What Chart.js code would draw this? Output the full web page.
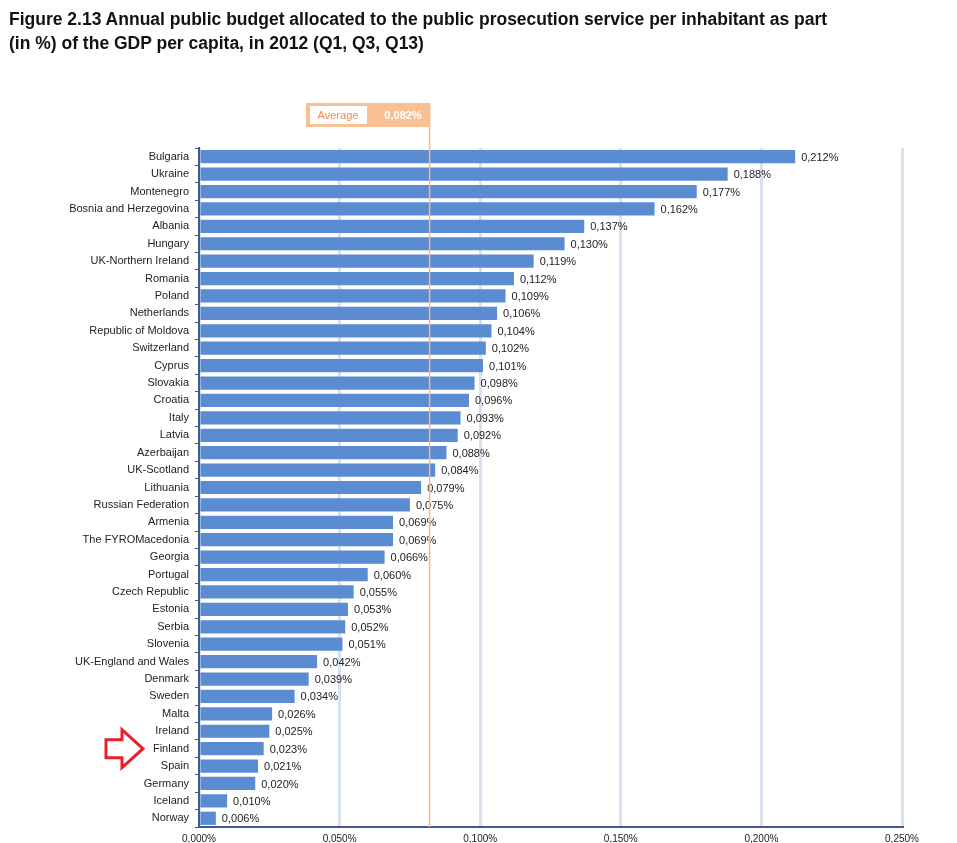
<!DOCTYPE html>
<html><head><meta charset="utf-8">
<script src="https://cdn.jsdelivr.net/npm/chart.js@4/dist/chart.umd.min.js"></script>
<style>
body{margin:0;background:#fff;width:957px;height:843px;overflow:hidden;position:relative;font-family:"Liberation Sans",Arial,sans-serif}
#title{position:absolute;left:9px;top:7px;font-size:17.5px;font-weight:bold;line-height:24px;color:#111;z-index:2}
#wrap{position:absolute;left:0;top:0;width:957px;height:843px}
</style></head><body>
<div id="title">Figure 2.13 Annual public budget allocated to the public prosecution service per inhabitant as part<br>(in %) of the GDP per capita, in 2012 (Q1, Q3, Q13)</div>
<div id="wrap"><canvas id="c"></canvas></div>
<script>
// Datos de la figura
const countries = ['Bulgaria','Ukraine','Montenegro','Bosnia and Herzegovina','Albania','Hungary','UK-Northern Ireland','Romania','Poland','Netherlands','Republic of Moldova','Switzerland','Cyprus','Slovakia','Croatia','Italy','Latvia','Azerbaijan','UK-Scotland','Lithuania','Russian Federation','Armenia','The FYROMacedonia','Georgia','Portugal','Czech Republic','Estonia','Serbia','Slovenia','UK-England and Wales','Denmark','Sweden','Malta','Ireland','Finland','Spain','Germany','Iceland','Norway'];
const values = [0.212,0.188,0.177,0.162,0.137,0.130,0.119,0.112,0.109,0.106,0.104,0.102,0.101,0.098,0.096,0.093,0.092,0.088,0.084,0.079,0.075,0.069,0.069,0.066,0.060,0.055,0.053,0.052,0.051,0.042,0.039,0.034,0.026,0.025,0.023,0.021,0.020,0.010,0.006];
const average = 0.082;
const xTicks = [0,0.05,0.1,0.15,0.2,0.25];

const fmt = (v, d) => v.toFixed(d).replace('.', ',') + '%';

// Etiquetas, línea de promedio y flecha
const extras = {
    id: 'extras',
    afterDatasetsDraw(chart) {
        const { ctx, scales: { x, y }, chartArea } = chart;
        ctx.save();
        ctx.font = '11px "Liberation Sans", Arial, sans-serif';
        ctx.fillStyle = '#222';
        ctx.textBaseline = 'middle';
        values.forEach((v, i) => {
            ctx.fillText(fmt(v, 3), x.getPixelForValue(v) + 6, y.getPixelForValue(i) + 1);
        });
        // promedio
        const ax = x.getPixelForValue(average);
        ctx.strokeStyle = '#f7b98a';
        ctx.lineWidth = 1.5;
        ctx.beginPath(); ctx.moveTo(ax, 103); ctx.lineTo(ax, chartArea.bottom); ctx.stroke();
        ctx.fillStyle = '#f9c193';
        ctx.fillRect(306, 103, ax - 306, 24);
        ctx.fillStyle = '#fff';
        ctx.fillRect(310, 106, 57, 18);
        ctx.textAlign = 'center';
        ctx.fillStyle = '#f58b4c';
        ctx.fillText('Average', 338, 115.5);
        ctx.fillStyle = '#fff';
        ctx.font = 'bold 11px "Liberation Sans", Arial, sans-serif';
        ctx.fillText(fmt(average, 3), 403, 115.5);
        // flecha roja
        const fy = y.getPixelForValue(countries.indexOf('Finland'));
        ctx.strokeStyle = '#e8202a';
        ctx.lineWidth = 3;
        ctx.beginPath();
        ctx.moveTo(106, fy - 9); ctx.lineTo(122, fy - 9); ctx.lineTo(122, fy - 19);
        ctx.lineTo(143, fy); ctx.lineTo(122, fy + 19); ctx.lineTo(122, fy + 9);
        ctx.lineTo(106, fy + 9); ctx.closePath(); ctx.stroke();
        ctx.restore();
    }
};

new Chart(document.getElementById('c'), {
    type: 'bar',
    data: {
        labels: countries,
        datasets: [{
            data: values,
            backgroundColor: '#5b8bd0',
            borderWidth: 0,
            categoryPercentage: 0.8,
            barPercentage: 0.95,
        }]
    },
    options: {
        indexAxis: 'y',
        responsive: true,
        maintainAspectRatio: false,
        animation: false,
        layout: { padding: { top: 148, right: 55, bottom: 0, left: 0 } },
        plugins: { legend: { display: false }, tooltip: { enabled: false } },
        scales: {
            x: {
                min: 0, max: 0.25,
                afterBuildTicks: s => { s.ticks = xTicks.map(v => ({ value: v })); },
                afterFit: s => { s.height = 16; },
                border: { color: '#3c5a8c', width: 2 },
                grid: { color: '#d8e1ef', lineWidth: 3, drawTicks: false },
                ticks: { color: '#222', padding: 6, font: { size: 10, family: '"Liberation Sans", Arial' }, callback: v => fmt(v, 3) }
            },
            y: {
                afterFit: s => { s.width = 199; },
                border: { color: '#3c5a8c', width: 2 },
                grid: { drawOnChartArea: false, color: '#3c5a8c', tickLength: 4, offset: true },
                ticks: { color: '#222', padding: 6, autoSkip: false, font: { size: 11, family: '"Liberation Sans", Arial' } }
            }
        }
    },
    plugins: [extras]
});
</script>
</body></html>
